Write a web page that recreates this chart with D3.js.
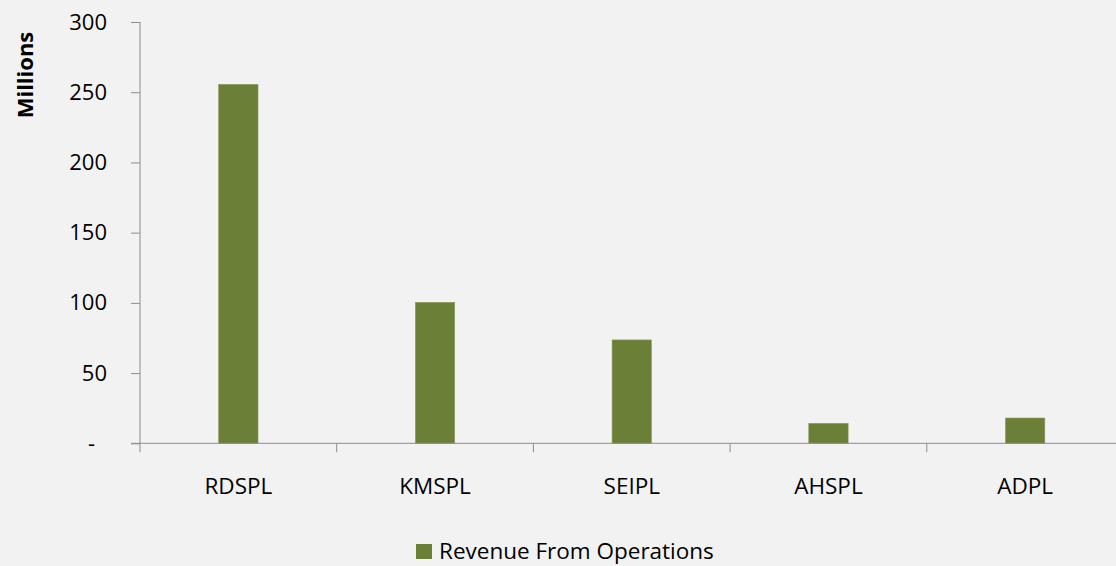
<!DOCTYPE html>
<html lang="en">
<head>
  <meta charset="utf-8">
  <title>Revenue From Operations</title>
  <style>
    body { margin: 0; background: #f2f2f2; }
    svg { display: block; font-family: "Open Sans", sans-serif; }
    .domain, .tick line { stroke: #8c8c8c; }
  </style>
</head>
<body>
  <script src="https://d3js.org/d3.v7.min.js"></script>
  <svg></svg>
  <script>

// Data (values in millions)
var companies = ['RDSPL', 'KMSPL', 'SEIPL', 'AHSPL', 'ADPL'];
var revenue = [255.6, 100.4, 73.6, 14.2, 18.0];
var yTicks = [0, 50, 100, 150, 200, 250, 300];
var seriesName = 'Revenue From Operations';

var width = 1116, height = 566;
var margins = {top: 22, left: 140, plotH: 421.3, step: 196.7};

var svg = d3.select('svg')
            .attr('width', width)
            .attr('height', height);

svg.append('rect')
   .attr('width', width)
   .attr('height', height)
   .attr('fill', '#f2f2f2');

// Scales
var xScale = d3.scaleBand()
               .domain(companies)
               .range([0, margins.step * companies.length])
               .paddingInner(0)
               .paddingOuter(0);

var yScale = d3.scaleLinear()
               .domain([0, 300])
               .range([margins.plotH, 0]);

var g = svg.append('g')
           .attr('transform', 'translate(' + margins.left + ',' + margins.top + ')');

// Bars - 20% of the category width, centred
var barW = xScale.bandwidth() * 0.2;
g.selectAll('rect.bar')
 .data(revenue)
 .enter()
 .append('rect')
 .attr('class', 'bar')
 .attr('x', function(d, i) { return xScale(companies[i]) + (xScale.bandwidth() - barW) / 2; })
 .attr('y', function(d) { return yScale(d); })
 .attr('width', barW)
 .attr('height', function(d) { return margins.plotH - yScale(d); })
 .attr('fill', '#6b7f37')
 .attr('stroke', '#8a9a62')
 .attr('stroke-width', 0.6);

// Y axis
var yAxis = g.append('g')
   .call(d3.axisLeft(yScale)
           .tickValues(yTicks)
           .tickSize(9)
           .tickSizeOuter(0)
           .tickPadding(24)
           .tickFormat(function(d) { return d === 0 ? '-' : d; }));
yAxis.select('.domain').attr('d', 'M0,0V' + (margins.plotH + 9));
yAxis.selectAll('text')
     .attr('font-size', '22px')
     .attr('font-family', '"Open Sans", sans-serif')
     .attr('fill', '#000')
     .attr('dx', function(d) { return d === 0 ? -12 : 0; });

// X axis line with ticks between categories
var xAxis = g.append('g')
             .attr('transform', 'translate(0,' + margins.plotH + ')');
xAxis.append('line')
     .attr('x1', -9).attr('x2', width)
     .attr('stroke', '#8c8c8c');
xAxis.selectAll('line.sep')
     .data(d3.range(1, companies.length + 1))
     .enter()
     .append('line')
     .attr('class', 'sep')
     .attr('x1', function(i) { return i * xScale.step(); })
     .attr('x2', function(i) { return i * xScale.step(); })
     .attr('y1', 0).attr('y2', 9)
     .attr('stroke', '#8c8c8c');
xAxis.selectAll('text')
     .data(companies)
     .enter()
     .append('text')
     .attr('x', function(d) { return xScale(d) + xScale.bandwidth() / 2; })
     .attr('y', 51)
     .attr('text-anchor', 'middle')
     .attr('font-size', '22.5px')
     .text(function(d) { return d; });

// Y axis title
svg.append('text')
   .attr('transform', 'translate(33,75) rotate(-90)')
   .attr('text-anchor', 'middle')
   .attr('font-size', '22px')
   .attr('font-weight', 'bold')
   .text('Millions');

// Legend
var legend = svg.append('g').attr('transform', 'translate(416,559)');
legend.append('rect')
      .attr('x', 0).attr('y', -15)
      .attr('width', 16).attr('height', 15)
      .attr('fill', '#6b7f37');
legend.append('text')
      .attr('x', 23)
      .attr('font-size', '22.5px')
      .text(seriesName);

  </script>
</body>
</html>
